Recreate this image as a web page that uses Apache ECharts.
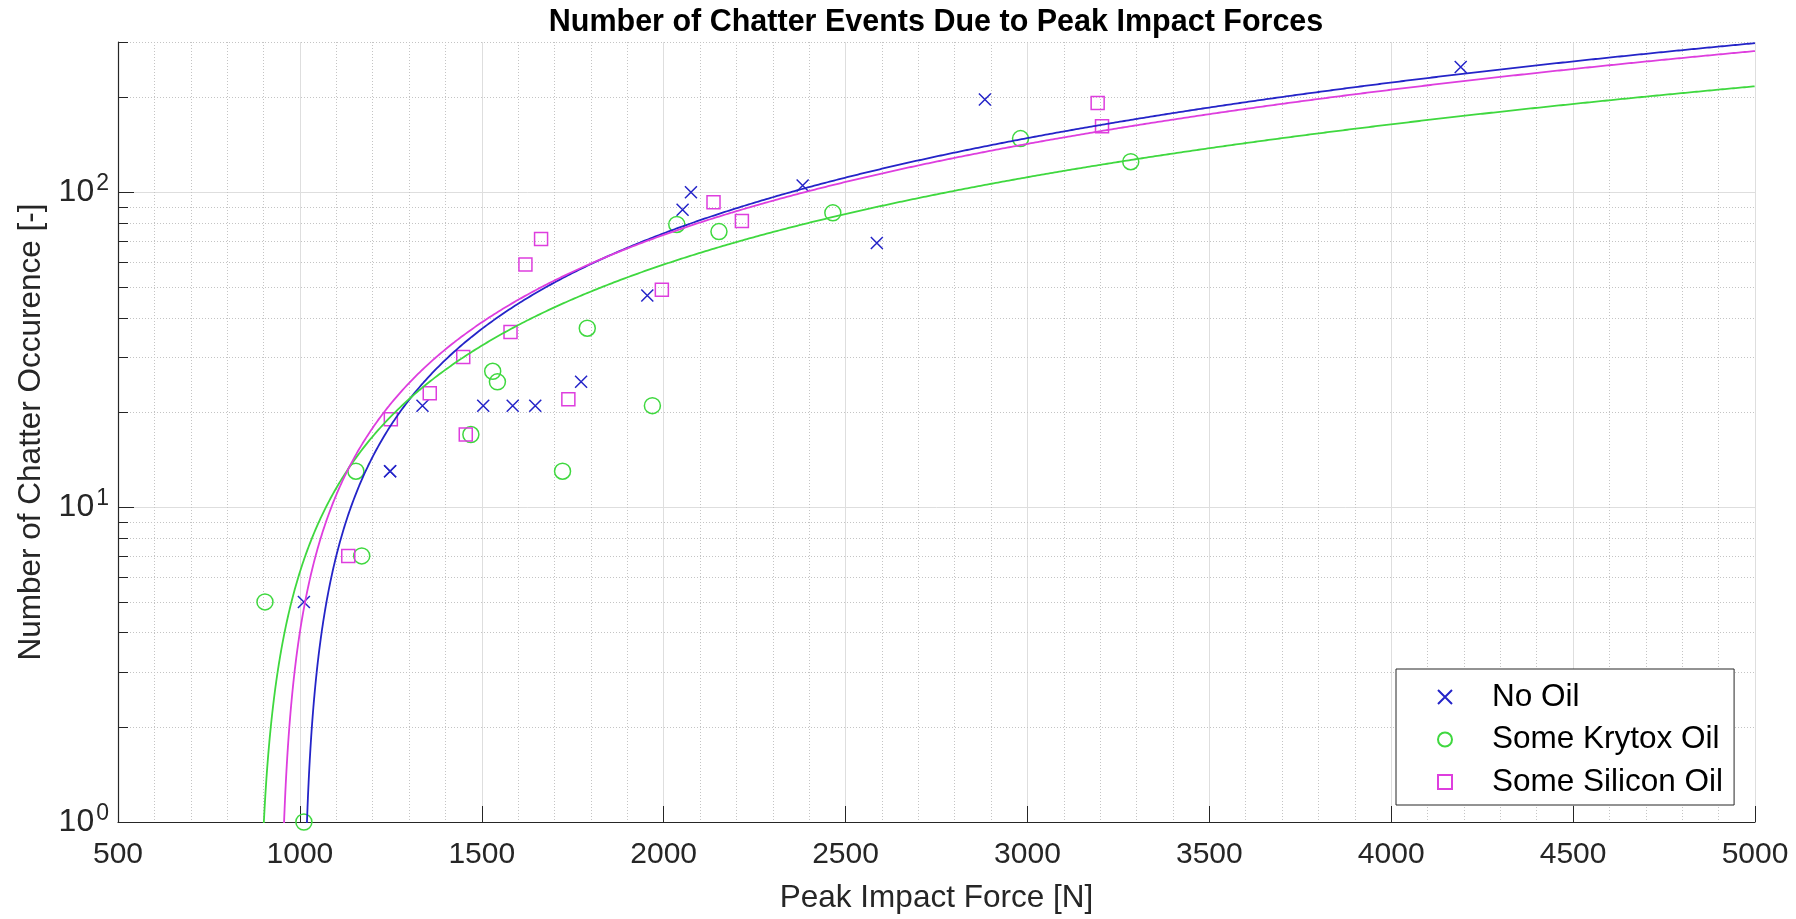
<!DOCTYPE html>
<html>
<head>
<meta charset="utf-8">
<title>Number of Chatter Events Due to Peak Impact Forces</title>
<script src="https://cdn.jsdelivr.net/npm/echarts@6/dist/echarts.min.js"></script>
<style>
  html, body { margin: 0; padding: 0; background: #ffffff; }
  #chart { width: 1796px; height: 919px; }
</style>
</head>
<body>
<div id="chart"></div>
<script>
// ---- Measurements: peak impact force [N] vs. number of chatter occurrences ----
const noOilForce   = [1011, 1248, 1248, 1337, 1504, 1585, 1647, 1773, 1955, 2052, 2075, 2382, 2586, 2883, 4191];
const noOilCount   = [5, 13, 13, 21, 21, 21, 21, 25, 47, 88, 100, 105, 69, 197, 250];

const krytoxForce  = [904, 1011, 1154, 1170, 1470, 1530, 1543, 1722, 1790, 1969, 2036, 2152, 2465, 2981, 3284];
const krytoxCount  = [5, 1, 13, 7, 17, 27, 25, 13, 37, 21, 79, 75, 86, 148, 125];

const siliconForce = [1133, 1250, 1357, 1449, 1456, 1579, 1620, 1663, 1738, 1995, 2137, 2215, 3193, 3205];
const siliconCount = [7, 19, 23, 30, 17, 36, 59, 71, 22, 49, 93, 81, 192, 162];

// Linear fits (count = slope * force + intercept), order: No Oil, Krytox, Silicon
const seriesNames   = ['No Oil', 'Some Krytox Oil', 'Some Silicon Oil'];
const fitSlope      = [0.0745, 0.0527, 0.0692];
const fitIntercept  = [-74.95, -46.48, -65.19];

// Axis ticks
const xRange        = [500, 5000];
const xTickStep     = 500;
const yRange        = [1, 300];
const yMajorTicks   = [1, 10, 100];
const yMinorTicks   = [2, 3, 4, 5, 6, 7, 8, 9, 20, 30, 40, 50, 60, 70, 80, 90, 200, 300];

// ---- Styling ----
const FONT = '"Liberation Sans", Arial, Helvetica, sans-serif';
const AXIS_COLOR = '#262626';
const COLORS = ['#2424c8', '#3fd83f', '#de3ede'];
const crossSymbol = 'path://M0,0L10,10M10,0L0,10';
const squareSymbol = 'path://M0,0H10V10H0Z';
const symbols = [crossSymbol, 'circle', squareSymbol];
const symbolSizes = [12, 16, 13];

function pairs(xs, ys) { return xs.map((x, i) => [x, ys[i]]); }

// Evaluate a fitted line across the force range (only where it is positive, for the log axis)
function fitCurve(slope, intercept) {
  const pts = [];
  for (let x = xRange[0]; x <= xRange[1]; x += 1) {
    const y = slope * x + intercept;
    if (y > 0) pts.push([x, y]);
  }
  return pts;
}

// Dotted minor grid lines and short inner ticks for the log axis (2..9 per decade)
function renderMinorY(params, api) {
  const cs = params.coordSys;
  const y = Math.round(api.coord([xRange[0], api.value(1)])[1]) + 0.5;
  return {
    type: 'group',
    children: [
      { type: 'line', silent: true,
        shape: { x1: cs.x, y1: y, x2: cs.x + cs.width, y2: y },
        style: { stroke: '#c4c4c4', lineWidth: 1, lineDash: [1, 2] } },
      { type: 'line', silent: true,
        shape: { x1: cs.x, y1: y, x2: cs.x + 10, y2: y },
        style: { stroke: AXIS_COLOR, lineWidth: 1 } }
    ]
  };
}

const scatterData = [pairs(noOilForce, noOilCount), pairs(krytoxForce, krytoxCount), pairs(siliconForce, siliconCount)];

const series = [];
series.push({
  type: 'custom',
  name: 'minor-grid',
  renderItem: renderMinorY,
  data: yMinorTicks.map(v => [xRange[0], v]),
  silent: true,
  z: 1,
  clip: false
});
seriesNames.forEach((name, i) => {
  series.push({
    type: 'scatter',
    name: name,
    data: scatterData[i],
    symbol: symbols[i],
    symbolSize: symbolSizes[i],
    symbolKeepAspect: true,
    clip: false,
    z: 3,
    itemStyle: { color: 'rgba(0,0,0,0)', borderColor: COLORS[i], borderWidth: 1.5, opacity: 1 }
  });
});
seriesNames.forEach((name, i) => {
  series.push({
    type: 'line',
    name: name + ' fit',
    data: fitCurve(fitSlope[i], fitIntercept[i]),
    showSymbol: false,
    symbol: 'none',
    clip: true,
    z: 4,
    lineStyle: { color: COLORS[i], width: 1.8 }
  });
});

const chart = echarts.init(document.getElementById('chart'), null, { renderer: 'canvas' });
chart.setOption({
  animation: false,
  backgroundColor: '#ffffff',
  title: {
    text: 'Number of Chatter Events Due to Peak Impact Forces',
    left: 936,
    top: 7,
    padding: 0,
    textAlign: 'center',
    textStyle: { fontFamily: FONT, fontSize: 30.5, fontWeight: 'bold', color: '#000000' }
  },
  grid: { left: 118, right: 41, top: 42, bottom: 92, containLabel: false },
  legend: {
    data: seriesNames.map((n, i) => ({ name: n, icon: symbols[i] })),
    orient: 'vertical',
    left: 1396,
    top: 669,
    padding: [12, 11, 7, 41],
    itemGap: 10.5,
    itemWidth: 14,
    itemHeight: 14,
    symbolKeepAspect: true,
    selectedMode: false,
    backgroundColor: '#ffffff',
    borderColor: AXIS_COLOR,
    borderWidth: 1,
    formatter: function (name) { return '{t|' + name + '}'; },
    textStyle: {
      fontFamily: FONT, fontSize: 31.5, color: '#000000',
      rich: { t: { fontFamily: FONT, fontSize: 31.5, color: '#000000', padding: [0, 0, 0, 35] } }
    }
  },
  xAxis: {
    type: 'value',
    min: xRange[0],
    max: xRange[1],
    interval: xTickStep,
    name: 'Peak Impact Force [N]',
    nameLocation: 'middle',
    nameGap: 60,
    nameTextStyle: { fontFamily: FONT, fontSize: 31.5, color: AXIS_COLOR },
    axisLine: { show: true, onZero: false, lineStyle: { color: AXIS_COLOR, width: 1.2 } },
    axisTick: { show: true, inside: true, length: 16, lineStyle: { color: AXIS_COLOR, width: 1 } },
    axisLabel: { fontFamily: FONT, fontSize: 30, color: AXIS_COLOR, margin: 18,
                 formatter: function (v) { return String(v); } },
    splitLine: { show: true, lineStyle: { color: '#dedede', width: 1 } },
    minorTick: { show: false, splitNumber: 5 },
    minorSplitLine: { show: true, lineStyle: { color: '#c4c4c4', width: 1, type: [1, 2] } }
  },
  yAxis: {
    type: 'log',
    logBase: 10,
    min: yRange[0],
    max: yRange[1],
    name: 'Number of Chatter Occurence [-]',
    nameLocation: 'middle',
    nameGap: 69,
    nameTextStyle: { fontFamily: FONT, fontSize: 31.5, color: AXIS_COLOR },
    axisLine: { show: true, lineStyle: { color: AXIS_COLOR, width: 1.2 } },
    axisTick: { show: true, inside: true, length: 16, customValues: yMajorTicks,
                lineStyle: { color: AXIS_COLOR, width: 1 } },
    axisLabel: {
      customValues: yMajorTicks,
      margin: 9,
      formatter: function (v) {
        const n = Math.round(Math.log10(v));
        return '{b|10}{s|' + n + '}';
      },
      rich: {
        b: { fontFamily: FONT, fontSize: 32, color: AXIS_COLOR },
        s: { fontFamily: FONT, fontSize: 23, color: AXIS_COLOR, padding: [0, 0, 17, 2] }
      }
    },
    splitLine: { show: true, lineStyle: { color: '#dedede', width: 1 } }
  },
  series: series
});
</script>
</body>
</html>
